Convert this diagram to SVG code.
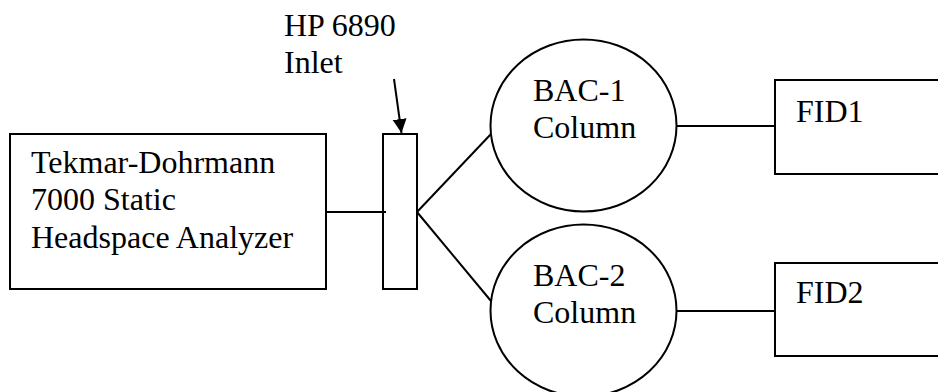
<svg xmlns="http://www.w3.org/2000/svg" width="938" height="392" viewBox="0 0 938 392">
<defs>
<style>
.s{fill:#fff;stroke:#000;stroke-width:2}
.l{stroke:#000;stroke-width:2;fill:none}
text{font-family:"Liberation Serif","Times New Roman",serif;font-size:32px;fill:#000}
</style>
<marker id="ah" viewBox="0 0 10 10" refX="10" refY="5" markerWidth="7" markerHeight="7.5" markerUnits="strokeWidth" orient="auto">
<path d="M0,0 L10,5 L0,10 z" fill="#000"/>
</marker>
</defs>
<rect width="938" height="392" fill="#fff"/>
<g id="connectors">
<line class="l" x1="326" y1="212" x2="386" y2="212"/>
<line class="l" x1="417" y1="212" x2="491" y2="134"/>
<line class="l" x1="417" y1="212" x2="491" y2="301"/>
<line class="l" x1="677" y1="126" x2="775" y2="126"/>
<line class="l" x1="677" y1="311" x2="775" y2="311"/>
<line class="l" x1="394" y1="79" x2="401.5" y2="133" marker-end="url(#ah)"/>
</g>
<g id="analyzer">
<rect class="s" x="10" y="134" width="316" height="155"/>
<text x="31" y="173">Tekmar-Dohrmann</text>
<text x="31" y="210">7000 Static</text>
<text x="31" y="248">Headspace Analyzer</text>
</g>
<g id="inlet">
<rect class="s" x="383" y="134" width="34" height="155" style="fill:none"/>
<text x="284" y="36">HP 6890</text>
<text x="284" y="73">Inlet</text>
</g>
<g id="bac1">
<ellipse class="s" cx="583.5" cy="125.5" rx="93" ry="86"/>
<text x="533" y="101">BAC-1</text>
<text x="533" y="138">Column</text>
</g>
<g id="bac2">
<ellipse class="s" cx="583.5" cy="310.5" rx="93" ry="86"/>
<text x="533" y="286">BAC-2</text>
<text x="533" y="323">Column</text>
</g>
<g id="fid1">
<rect class="s" x="775" y="80" width="175" height="94"/>
<text x="796" y="122">FID1</text>
</g>
<g id="fid2">
<rect class="s" x="775" y="263" width="175" height="93"/>
<text x="796" y="303">FID2</text>
</g>
</svg>
